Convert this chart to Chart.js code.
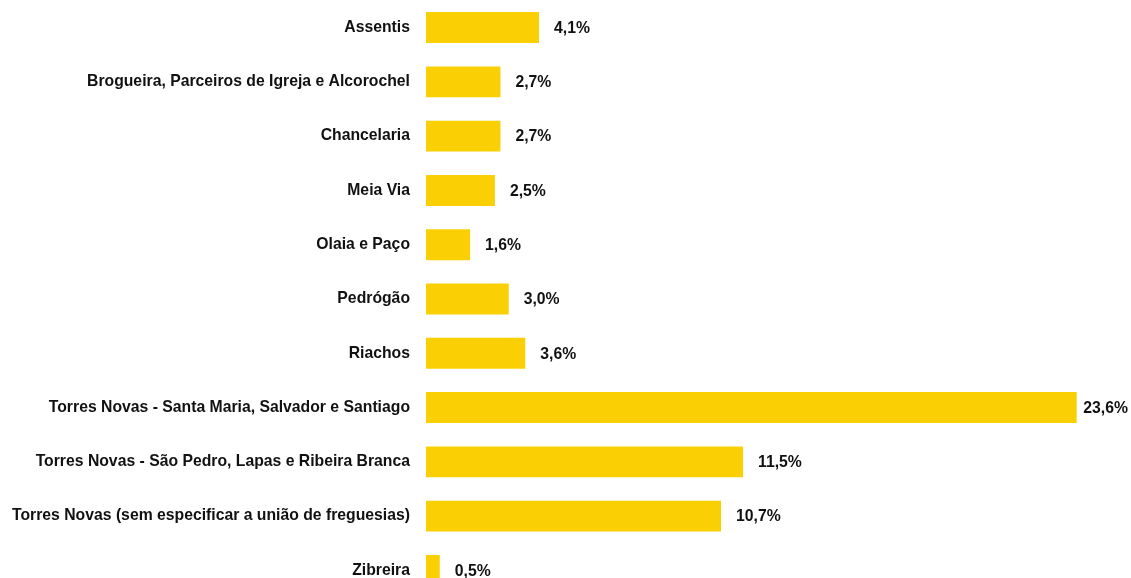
<!DOCTYPE html>
<html lang="pt">
<head>
    <meta charset="UTF-8">
    <title>Freguesias</title>
    <script src="https://cdn.jsdelivr.net/npm/chart.js"></script>
    <style>
        body {
            margin: 0;
            padding: 0;
            background-color: #ffffff;
            overflow: hidden;
        }
        .chart-wrap {
            width: 1131px;
            height: 578px;
            overflow: hidden;
        }
        /* the y axis reserves padding above/below, pull it out of view */
        #freguesiasChart {
            display: block;
            margin-top: -25px;
        }
    </style>
</head>
<body>
    <div class="chart-wrap">
        <canvas id="freguesiasChart" width="1131" height="648"></canvas>
    </div>
    <script>
        const categories = [
            "Assentis",
            "Brogueira, Parceiros de Igreja e Alcorochel",
            "Chancelaria",
            "Meia Via",
            "Olaia e Paço",
            "Pedrógão",
            "Riachos",
            "Torres Novas - Santa Maria, Salvador e Santiago",
            "Torres Novas - São Pedro, Lapas e Ribeira Branca",
            "Torres Novas (sem especificar a união de freguesias)",
            "Zibreira"
        ];
        const percentages = [4.1, 2.7, 2.7, 2.5, 1.6, 3.0, 3.6, 23.6, 11.5, 10.7, 0.5];

        const fontFamily = "'Liberation Sans', Arial, sans-serif";
        const fontSize = 15.75;

        // writes "4,1%" etc. just past the end of each bar
        const valueLabels = {
            id: "valueLabels",
            afterDatasetsDraw(chart) {
                const ctx = chart.ctx;
                const meta = chart.getDatasetMeta(0);
                ctx.save();
                ctx.font = "bold " + fontSize + "px " + fontFamily;
                ctx.fillStyle = "#111111";
                ctx.textAlign = "left";
                ctx.textBaseline = "middle";
                meta.data.forEach((bar, i) => {
                    const txt = percentages[i].toFixed(1).replace(".", ",") + "%";
                    const w = ctx.measureText(txt).width;
                    // keep the last label inside the canvas
                    const x = Math.min(bar.x + 15, chart.width - w - 3);
                    ctx.fillText(txt, x, bar.y + 1);
                });
                ctx.restore();
            }
        };

        new Chart(document.getElementById("freguesiasChart"), {
            type: "bar",
            data: {
                labels: categories,
                datasets: [{
                    data: percentages,
                    backgroundColor: "#FAD005",
                    borderWidth: 0,
                    barPercentage: 0.57,
                    categoryPercentage: 1
                }]
            },
            options: {
                indexAxis: "y",
                responsive: false,
                animation: false,
                layout: { padding: 0 },
                plugins: {
                    legend: { display: false },
                    tooltip: { enabled: false }
                },
                scales: {
                    x: {
                        display: false,
                        min: 0,
                        max: 25.57
                    },
                    y: {
                        grid: { display: false, drawTicks: false },
                        border: { display: false },
                        ticks: {
                            color: "#111111",
                            padding: 16,
                            font: { family: fontFamily, size: fontSize, weight: "bold" }
                        },
                        afterFit(scale) {
                            scale.width = 426;
                        }
                    }
                }
            },
            plugins: [valueLabels]
        });
    </script>
</body>
</html>
